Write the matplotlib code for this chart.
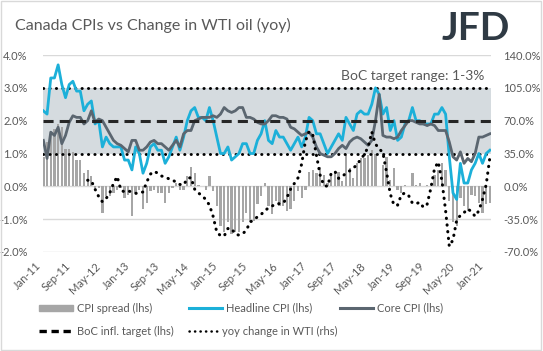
import numpy as np
import matplotlib
matplotlib.use("Agg")
import matplotlib.pyplot as plt
from matplotlib.lines import Line2D
from matplotlib.patches import Rectangle
import matplotlib.transforms as mtransforms

plt.rcParams['font.family'] = ['Lato', 'DejaVu Sans']

# ---- data: monthly, Jan-2011 .. Feb-2021 ----
headline_cpi = [
    2.3, 2.2, 3.3, 3.3, 3.7, 3.1, 2.7, 3.1, 3.2, 2.9, 2.9, 2.3,
    2.5, 2.6, 1.9, 2.0, 1.2, 1.5, 1.3, 1.2, 1.2, 1.2, 0.8, 0.8,
    0.5, 1.2, 1.0, 0.4, 0.7, 1.2, 1.3, 1.1, 1.1, 0.7, 0.9, 1.2,
    1.5, 1.1, 1.5, 2.0, 2.3, 2.4, 2.1, 2.1, 2.0, 2.4, 2.0, 1.5,
    1.0, 1.0, 1.2, 0.8, 0.9, 1.0, 1.3, 1.3, 1.0, 1.0, 1.4, 1.6,
    2.0, 1.4, 1.3, 1.7, 1.5, 1.5, 1.3, 1.1, 1.3, 1.5, 1.2, 1.5,
    2.1, 2.0, 1.6, 1.6, 1.3, 1.0, 1.2, 1.4, 1.6, 1.4, 2.1, 1.9,
    1.7, 2.2, 2.3, 2.2, 2.2, 2.5, 3.0, 2.8, 2.2, 2.4, 1.7, 2.0,
    1.4, 1.5, 1.9, 2.0, 2.4, 2.0, 2.0, 1.9, 1.9, 1.9, 2.2, 2.2,
    2.4, 2.2, 0.9, -0.2, -0.4, 0.7, 0.1, 0.1, 0.5, 0.7, 1.0, 0.7,
    1.0, 1.1,
]

core_cpi = [
    1.4, 0.85, 1.65, 1.55, 1.8, 1.3, 1.55, 1.95, 2.15, 2.1, 2.1, 1.9,
    2.0, 2.3, 1.95, 2.05, 2.0, 1.8, 1.6, 1.4, 1.3, 1.25, 1.15, 1.05,
    1.4, 1.4, 1.1, 1.1, 1.2, 1.35, 1.4, 1.3, 1.3, 1.2, 1.1, 1.25,
    1.4, 1.2, 1.6, 1.7, 1.7, 2.0, 2.05, 2.1, 2.1, 2.1, 2.15, 2.1,
    2.2, 2.4, 2.3, 2.25, 2.3, 2.4, 2.4, 2.1, 2.1, 2.05, 1.95, 1.9,
    1.9, 2.0, 2.15, 2.15, 2.1, 2.1, 2.05, 1.8, 1.75, 1.65, 1.55, 1.6,
    1.65, 1.5, 1.2, 1.0, 0.95, 0.9, 0.9, 1.0, 1.15, 1.25, 1.15, 1.35,
    1.45, 1.5, 1.45, 1.35, 1.25, 1.4, 2.0, 2.8, 1.55, 1.5, 1.5, 1.45,
    1.5, 1.7, 1.85, 2.0, 2.0, 1.95, 1.9, 1.9, 1.85, 1.9, 1.85, 1.7,
    1.7, 1.7, 1.35, 0.9, 0.8, 1.05, 0.7, 0.85, 0.75, 1.0, 1.5, 1.5,
    1.55, 1.6,
]

cpi_spread = [
    0.9, 1.35, 1.65, 1.75, 1.9, 1.8, 1.15, 1.15, 1.05, 0.8, 0.8, 0.4,
    0.5, 0.3, -0.05, -0.05, -0.8, -0.3, -0.3, -0.2, -0.1, -0.05, -0.35, -0.25,
    -0.9, -0.2, -0.1, -0.7, -0.5, -0.15, -0.1, -0.2, -0.2, -0.5, -0.2, -0.05,
    0.1, -0.1, -0.1, 0.3, 0.6, 0.4, 0.05, 0.0, -0.1, 0.3, -0.15, -0.6,
    -1.2, -1.4, -1.1, -1.45, -1.4, -1.4, -1.1, -0.8, -1.1, -1.05, -0.55, -0.3,
    0.1, -0.6, -0.85, -0.45, -0.6, -0.6, -0.75, -0.7, -0.45, -0.15, -0.35, -0.1,
    0.45, 0.5, 0.4, 0.6, 0.35, 0.1, 0.3, 0.4, 0.45, 0.15, 0.95, 0.55,
    0.25, 0.7, 0.85, 0.85, 0.95, 1.1, 1.0, 0.0, 0.65, 0.9, 0.2, 0.55,
    -0.1, -0.2, 0.05, 0.0, 0.4, 0.05, 0.1, 0.0, 0.05, 0.0, 0.35, 0.5,
    0.7, 0.5, -0.45, -1.1, -1.2, -0.35, -0.6, -0.75, -0.25, -0.3, -0.5, -0.8,
    -0.55, -0.5,
]

# WTI yoy change, % (no data during 2011)
wti_yoy = [np.nan] * 12 + [
    6.5, 6, -3, -11, -16.5, -13, -7, 3, 10.5, -4, -6, -5,
    -6, -7.5, -7, -6, 4.5, 13, 16, 14, 11, 10, 8, 7,
    4, 2, 1.5, 8, 9.5, -3, -7, -10, -14, -20, -32, -49,
    -52.5, -53, -45, -45, -51, -52, -50.5, -47, -38, -36, -32.5, -30,
    -26, -23, -21, -18.5, -18.5, -18, -12, -3, 3, 9, 24, 48,
    58.5, 55, 33, 12, 1, 0, 14, 16, 8.5, 10.5, 14, 16.5,
    19.5, 23, 29, 34, 42, 58, 45, 40, 36, 15, -8, -20,
    -20, -9, -7, -10, -18, -18.5, -17, -22.5, -19, -2, 19, 26,
    6, -26, -64, -57, -36, -31, -28, -24, -27, -32, -26, -14,
    2, 31,
]

boc_target = 2.0
boc_range = (1.0, 3.0)

tick_labels = ["Jan-11", "Sep-11", "May-12", "Jan-13", "Sep-13", "May-14",
               "Jan-15", "Sep-15", "May-16", "Jan-17", "Sep-17", "May-18",
               "Jan-19", "Sep-19", "May-20", "Jan-21"]

# ---- styling ----
GREY_TXT = "#595959"
C_HEAD = "#1cb0d9"
C_CORE = "#5b6670"
C_BAR = "#a6a6a6"
C_BAND = "#d5dbdf"
C_GRID = "#d9d9d9"
DOT = (0, (0.1, 2.1))
DASH = (0, (3.3, 2.0))

W, H = 543, 351
fig = plt.figure(figsize=(W / 100, H / 100), dpi=100)


def fx(px):
    return px / W


def fy(py):
    return 1 - py / H


ax = fig.add_axes([fx(43), fy(252), fx(448), 197 / H])
n = len(headline_cpi)
x = np.arange(n)

ax.axhspan(boc_range[0], boc_range[1], color=C_BAND, zorder=0, lw=0)
for v in [4, 0, -1, -2]:
    ax.axhline(v, color=C_GRID, lw=1.0, zorder=0.5)

ax.bar(x, cpi_spread, width=0.62, color=C_BAR, zorder=1)
for v in boc_range:
    ax.axhline(v, color="black", lw=2.1, ls=DOT, dash_capstyle="round", zorder=2)
ax.plot(x, headline_cpi, color=C_HEAD, lw=2.0, zorder=3)
ax.plot(x, core_cpi, color=C_CORE, lw=2.0, zorder=3)
ax.axhline(boc_target, color="#262626", lw=2.2, ls=DASH, zorder=4)

ax.set_xlim(-0.1, 121.3)
ax.set_ylim(-2, 4)
ax.set_yticks(np.arange(-2, 4.1, 1))
ax.set_yticklabels([f"{v:.1f}%" for v in np.arange(-2, 4.1, 1)])
ax.set_xticks(np.arange(0, 8 * len(tick_labels), 8))
ax.set_xticklabels(tick_labels, rotation=45, ha="right", rotation_mode="anchor")
ax.tick_params(axis="y", length=0, pad=11, labelsize=8, labelcolor=GREY_TXT)
ax.tick_params(axis="x", length=0, pad=6, labelsize=8, labelcolor=GREY_TXT)
offset = mtransforms.ScaledTranslation(-8 / 100, 0, fig.dpi_scale_trans)
for lab in ax.get_xticklabels():
    lab.set_transform(lab.get_transform() + offset)
for s in ax.spines.values():
    s.set_visible(False)

ax.text(119.5, 3.18, "BoC target range: 1-3%", ha="right", va="bottom",
        fontsize=10, color=GREY_TXT, zorder=5)

ax2 = ax.twinx()
ax2.plot(x, wti_yoy, color="black", lw=2.2, ls=DOT, dash_capstyle="round", zorder=5)
ax2.set_ylim(-70, 140)
ax2.set_yticks(np.arange(-70, 141, 35))
ax2.set_yticklabels([f"{v:.1f}%" for v in np.arange(-70, 141, 35)])
ax2.tick_params(axis="y", length=0, pad=9, labelsize=8, labelcolor=GREY_TXT)
for s in ax2.spines.values():
    s.set_visible(False)

# title and logo
fig.text(fx(15), fy(25), "Canada CPIs vs Change in WTI oil (yoy)", fontsize=11.5,
         color=GREY_TXT, va="center", ha="left")
fig.text(fx(510), fy(29), "JFD", fontsize=28, fontweight="bold", color="#2f3a44",
         va="center", ha="right")

# legend, drawn by hand to match the column layout
r1, r2 = 308, 331
fig.add_artist(Rectangle((fx(39), fy(r1 + 3)), fx(34), 6 / H, transform=fig.transFigure,
                         color=C_BAR))
fig.add_artist(Line2D([fx(189), fx(222)], [fy(r1)] * 2, transform=fig.transFigure,
                      color=C_HEAD, lw=2.2))
fig.add_artist(Line2D([fx(340), fx(373)], [fy(r1)] * 2, transform=fig.transFigure,
                      color=C_CORE, lw=2.2))
fig.add_artist(Line2D([fx(39), fx(72)], [fy(r2)] * 2, transform=fig.transFigure,
                      color="black", lw=2.4, ls=(0, (2.2, 1.4))))
fig.add_artist(Line2D([fx(189), fx(218)], [fy(r2)] * 2, transform=fig.transFigure,
                      color="black", lw=1.8, ls=DOT, dash_capstyle="round"))
legend_items = [(77, r1, "CPI spread (lhs)"), (226, r1, "Headline CPI (lhs)"),
                (377, r1, "Core CPI (lhs)"), (77, r2, "BoC infl. target (lhs)"),
                (222, r2, "yoy change in WTI (rhs)")]
for px, py, txt in legend_items:
    fig.text(fx(px), fy(py), txt, fontsize=8, color=GREY_TXT, va="center", ha="left")

# outer frame
fig.add_artist(Rectangle((0.002, 0.003), 0.995, 0.993, transform=fig.transFigure,
                         fill=False, edgecolor=C_GRID, lw=1.0))

fig.savefig("out.png", dpi=100)
